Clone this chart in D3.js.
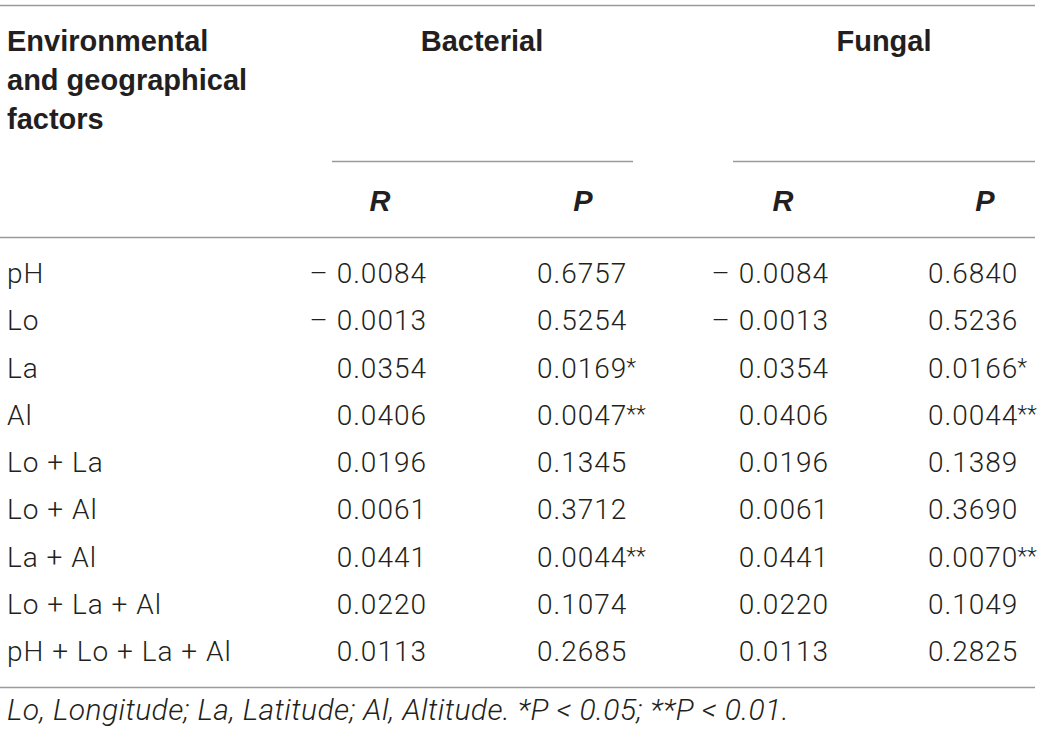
<!DOCTYPE html>
<html>
<head>
<meta charset="utf-8">
<script src="https://cdn.jsdelivr.net/npm/d3@7"></script>
<style>
  html, body { margin: 0; padding: 0; background: #fff; }
  svg { display: block; }
</style>
</head>
<body>
<svg id="chart" width="1042" height="735"></svg>
<script>
// ---- data ----
const factors = ["pH", "Lo", "La", "Al", "Lo + La", "Lo + Al", "La + Al", "Lo + La + Al", "pH + Lo + La + Al"];
const bacterialR = ["– 0.0084", "– 0.0013", "0.0354", "0.0406", "0.0196", "0.0061", "0.0441", "0.0220", "0.0113"];
const bacterialP = ["0.6757", "0.5254", "0.0169*", "0.0047**", "0.1345", "0.3712", "0.0044**", "0.1074", "0.2685"];
const fungalR = ["– 0.0084", "– 0.0013", "0.0354", "0.0406", "0.0196", "0.0061", "0.0441", "0.0220", "0.0113"];
const fungalP = ["0.6840", "0.5236", "0.0166*", "0.0044**", "0.1389", "0.3690", "0.0070**", "0.1049", "0.2825"];
const firstHeader = ["Environmental", "and geographical", "factors"];
const groups = ["Bacterial", "Fungal"];
const subHeaders = ["R", "P", "R", "P"];
const footnote = "Lo, Longitude; La, Latitude; Al, Altitude. *P < 0.05; **P < 0.01.";

// ---- layout ----
const svg = d3.select("#chart");
const bodyFont = "Roboto, 'Liberation Sans', Arial, sans-serif";
const boldFont = "'Liberation Sans', Arial, Helvetica, sans-serif";
const textColor = "#231f20";
const ruleColor = "#9a9a9a";
const headSize = 29;
const bodySize = 28;
const bodySpacing = 1;

const y = d3.scalePoint().domain(factors).range([283, 661]);
const headerLineY = d3.scalePoint().domain(d3.range(firstHeader.length)).range([51, 129]);

// column x positions
const colKeys = ["bR", "bP", "fR", "fP"];
const colCenter = d3.scaleOrdinal().domain(colKeys).range([380, 583, 783, 985]);
const colAnchorX = d3.scaleOrdinal().domain(colKeys).range([427, 537, 829, 928]);
const colAnchor = d3.scaleOrdinal().domain(colKeys).range(["end", "start", "end", "start"]);
const groupCenter = d3.scaleOrdinal().domain(groups).range([482, 884]);
const groupSpan = d3.scaleOrdinal().domain(groups).range([[332, 633], [733, 1035]]);

// rules
const rule = (x1, x2, yy) => svg.append("line")
  .attr("x1", x1).attr("x2", x2).attr("y1", yy).attr("y2", yy)
  .attr("stroke", ruleColor).attr("stroke-width", 1.6);
rule(0, 1035, 5.5);
rule(0, 1035, 237.5);
rule(0, 1035, 687.5);
groups.forEach(g => { const s = groupSpan(g); rule(s[0], s[1], 161.5); });

// header first column
svg.append("g").selectAll("text").data(firstHeader).join("text")
  .attr("x", 7).attr("y", (d, i) => headerLineY(i))
  .attr("font-family", boldFont).attr("font-weight", "bold")
  .attr("font-size", headSize).attr("fill", textColor)
  .text(d => d);

// group headers
svg.append("g").selectAll("text").data(groups).join("text")
  .attr("x", d => groupCenter(d)).attr("y", 51)
  .attr("text-anchor", "middle")
  .attr("font-family", boldFont).attr("font-weight", "bold")
  .attr("font-size", headSize).attr("fill", textColor)
  .text(d => d);

// sub headers R / P
svg.append("g").selectAll("text").data(subHeaders).join("text")
  .attr("x", (d, i) => colCenter(colKeys[i])).attr("y", 211)
  .attr("text-anchor", "middle")
  .attr("font-family", boldFont).attr("font-weight", "bold").attr("font-style", "italic")
  .attr("font-size", headSize).attr("fill", textColor)
  .text(d => d);

// factor names
svg.append("g").selectAll("text").data(factors).join("text")
  .attr("x", 7).attr("y", d => y(d))
  .attr("font-family", bodyFont).attr("font-weight", 300)
  .attr("font-size", bodySize).attr("letter-spacing", bodySpacing).attr("fill", textColor)
  .text(d => d);

// value columns (significance stars drawn a little smaller and raised)
const columns = { bR: bacterialR, bP: bacterialP, fR: fungalR, fP: fungalP };
colKeys.forEach(k => {
  const t = svg.append("g").selectAll("text").data(columns[k]).join("text")
    .attr("x", colAnchorX(k)).attr("y", (d, i) => y(factors[i]))
    .attr("text-anchor", colAnchor(k))
    .attr("font-family", bodyFont).attr("font-weight", 300)
    .attr("font-size", bodySize).attr("fill", textColor);
  t.append("tspan")
    .attr("letter-spacing", bodySpacing)
    .text(d => d.replace(/\*+$/, ""));
  t.filter(d => /\*$/.test(d)).append("tspan")
    .attr("font-size", 23).attr("dx", -1).attr("dy", -3)
    .text(d => d.match(/\*+$/)[0]);
});

// footnote
svg.append("text")
  .attr("x", 7).attr("y", 720)
  .attr("font-family", bodyFont).attr("font-weight", 300).attr("font-style", "italic")
  .attr("font-size", 30).attr("letter-spacing", 0.4).attr("fill", textColor)
  .text(footnote);
</script>
</body>
</html>
